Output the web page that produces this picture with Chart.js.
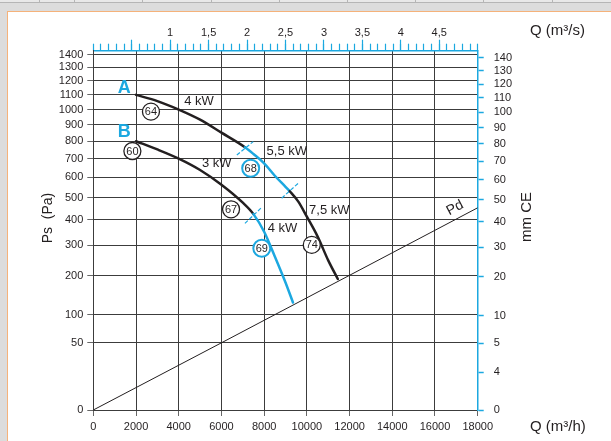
<!DOCTYPE html>
<html>
<head>
<meta charset="utf-8">
<title>Fan curves</title>
<script src="https://cdn.jsdelivr.net/npm/chart.js@4.4.0/dist/chart.umd.min.js"></script>
<style>
    body { margin: 0; width: 611px; height: 441px; overflow: hidden; position: relative; background: #dcdcdc; }
    #strip { position: absolute; left: 0; top: 0; height: 3px; display: flex; }
    #strip div { height: 2px; background: #e8e8e8; border-right: 1px solid #b5b5b5; border-bottom: 1px solid #b5b5b5; }
    #panel { position: absolute; left: 7px; top: 11px; width: 660px; height: 480px; background: #fff; border: 1px solid #f5b27a; }
    canvas { position: absolute; left: 0; top: 0; }
</style>
</head>
<body>
<div id="strip">
    <div style="width:39px"></div><div style="width:34px"></div><div style="width:67px"></div>
    <div style="width:68px"></div><div style="width:67px"></div><div style="width:67px"></div>
    <div style="width:67px"></div><div style="width:67px"></div><div style="width:68px"></div>
    <div style="width:60px"></div>
</div>
<div id="panel"></div>
<canvas id="fanChart" width="611" height="441"></canvas>
<script>
'use strict';

// curve A: Q (m3/h) / Ps (Pa), blue part between 7100 and 9200
const curveAQ = [2000, 3000, 4000, 5000, 6000, 7100, 7500, 8000, 8500, 9000, 9200, 9600, 10000, 10500, 11000, 11450];
const curveAPs = [1100, 1057, 1000, 934, 852, 765, 726, 674, 608, 552, 530, 481, 414, 334, 248, 190];
// curve B: blue part from 7500 on
const curveBQ = [2000, 3000, 4000, 5000, 6000, 7000, 7500, 8000, 8500, 9000, 9350];
const curveBPs = [800, 752, 700, 638, 562, 476, 425, 352, 261, 180, 128];
// dynamic pressure line
const pdQ = [0, 6000, 18000];
const pdPs = [0, 50, 453];
// dashed marks where the motor changes
const markA1Q = [6720, 7490], markA1Ps = [720, 798];
const markA2Q = [8820, 9600], markA2Ps = [497, 570];
const markB1Q = [7100, 7890], markB1Ps = [386, 455];

const qTicks = [0, 2000, 4000, 6000, 8000, 10000, 12000, 14000, 16000, 18000];
const psTicks = [0, 50, 100, 200, 300, 400, 500, 600, 700, 800, 900, 1000, 1100, 1200, 1300, 1400];
const mmLabels = ['0', '4', '5', '10', '20', '30', '40', '50', '60', '70', '80', '90', '100', '110', '120', '130', '140'];
// mm CE level each label is printed at (the "4" sits lower than its value on the original)
const mmTickAt = [0, 1.6, 5, 10, 20, 30, 40, 50, 60, 70, 80, 90, 100, 110, 120, 130, 140];
const qsLabels = [1, 1.5, 2, 2.5, 3, 3.5, 4, 4.5];

const qMax = 18000;
const psMax = 1430;
const paPerMm = 9.80665;

const blue = '#1ca8e0';
const ink = '#231f20';
const gridColor = '#3c3c3c';
const font = '"Liberation Sans", Arial, sans-serif';

// square root axis: Pd grows with Q squared and comes out straight
class SqrtScale extends Chart.LinearScale {
    getPixelForValue(value) {
        let lo = Math.sqrt(this.min);
        let hi = Math.sqrt(this.max);
        return this.getPixelForDecimal((Math.sqrt(Math.max(value, 0)) - lo) / (hi - lo));
    }
    getValueForPixel(pixel) {
        let lo = Math.sqrt(this.min);
        let hi = Math.sqrt(this.max);
        let v = lo + this.getDecimalForPixel(pixel) * (hi - lo);
        return v * v;
    }
}
SqrtScale.id = 'sqrt';
SqrtScale.defaults = {};
Chart.register(SqrtScale);

let toPoints = function (qs, ps) {
    return qs.map((q, i) => ({x: q, y: ps[i]}));
};

let segmentColour = function (from, to) {
    return ctx => (ctx.p0.parsed.x >= from && ctx.p1.parsed.x <= to) ? blue : ink;
};

let setTicks = function (list) {
    return scale => { scale.ticks = list.map(v => ({value: v})); };
};

let minorQs = [];
for (let i = 0; i <= 50; i++) {
    minorQs.push(i / 10);
}

// labels on the chart, placed in Q / Ps units
const notes = [
    {q: 1450, ps: 1147, text: 'A', color: blue, bold: true},
    {q: 1450, ps: 854, text: 'B', color: blue, bold: true},
    {q: 4950, ps: 1058, text: '4 kW'},
    {q: 5780, ps: 674, text: '3 kW'},
    {q: 9060, ps: 739, text: '5,5 kW'},
    {q: 11050, ps: 443, text: '7,5 kW'},
    {q: 8860, ps: 366, text: '4 kW'},
    {q: 2700, ps: 986, text: '64', ring: ink},
    {q: 1830, ps: 743, text: '60', ring: ink},
    {q: 7370, ps: 647, text: '68', ring: blue},
    {q: 6450, ps: 446, text: '67', ring: ink},
    {q: 7890, ps: 290, text: '69', ring: blue},
    {q: 10230, ps: 302, text: '74', ring: ink}
];

let notesPlugin = {
    id: 'notes',
    afterDatasetsDraw(chart) {
        let ctx = chart.ctx;
        let xs = chart.scales.x;
        let ys = chart.scales.y;
        ctx.save();
        ctx.textAlign = 'center';
        ctx.textBaseline = 'middle';
        notes.forEach(n => {
            let px = xs.getPixelForValue(n.q);
            let py = ys.getPixelForValue(n.ps);
            if (n.ring) {
                ctx.beginPath();
                ctx.arc(px, py, 8.5, 0, Math.PI * 2);
                ctx.fillStyle = '#fff';
                ctx.fill();
                ctx.lineWidth = n.ring === blue ? 2 : 1.3;
                ctx.strokeStyle = n.ring;
                ctx.stroke();
                ctx.fillStyle = ink;
                ctx.font = '11px ' + font;
                ctx.fillText(n.text, px, py + 0.5);
            } else if (n.bold) {
                ctx.fillStyle = n.color;
                ctx.font = 'bold 18px ' + font;
                ctx.fillText(n.text, px, py);
            } else {
                ctx.fillStyle = ink;
                ctx.font = '13px ' + font;
                ctx.fillText(n.text, px, py);
            }
        });

        // Pd label follows the slope of its line
        let x0 = xs.getPixelForValue(pdQ[0]), y0 = ys.getPixelForValue(pdPs[0]);
        let x1 = xs.getPixelForValue(pdQ[2]), y1 = ys.getPixelForValue(pdPs[2]);
        ctx.translate(xs.getPixelForValue(16940), ys.getPixelForValue(452));
        ctx.rotate(Math.atan2(y1 - y0, x1 - x0));
        ctx.fillStyle = ink;
        ctx.font = '14px ' + font;
        ctx.fillText('Pd', 0, 0);
        ctx.restore();

        // axis titles
        ctx.save();
        ctx.fillStyle = ink;
        ctx.font = '15px ' + font;
        ctx.textAlign = 'left';
        ctx.textBaseline = 'middle';
        ctx.fillText('Q (m³/s)', 530, 31);
        ctx.fillText('Q (m³/h)', 530, 427);
        ctx.textAlign = 'center';
        ctx.translate(48, 218);
        ctx.rotate(-Math.PI / 2);
        ctx.font = '14px ' + font;
        ctx.fillText('Ps  (Pa)', 0, 0);
        ctx.restore();
        ctx.save();
        ctx.fillStyle = ink;
        ctx.font = '15px ' + font;
        ctx.textAlign = 'center';
        ctx.textBaseline = 'middle';
        ctx.translate(527, 217);
        ctx.rotate(-Math.PI / 2);
        ctx.fillText('mm CE', 0, 0);
        ctx.restore();
    }
};

let lineStyle = {pointRadius: 0, fill: false, cubicInterpolationMode: 'monotone', borderCapStyle: 'round', borderJoinStyle: 'round'};

let markStyle = {pointRadius: 0, fill: false, borderColor: blue, borderWidth: 1.2, borderDash: [4, 2]};

new Chart(document.getElementById('fanChart').getContext('2d'), {
    type: 'line',
    data: {
        datasets: [
            Object.assign({label: 'A', data: toPoints(curveAQ, curveAPs), borderColor: ink, borderWidth: 2.5,
                segment: {borderColor: segmentColour(7100, 9200)}}, lineStyle),
            Object.assign({label: 'B', data: toPoints(curveBQ, curveBPs), borderColor: ink, borderWidth: 2.5,
                segment: {borderColor: segmentColour(7500, 99999)}}, lineStyle),
            {label: 'Pd', data: toPoints(pdQ, pdPs), borderColor: ink, borderWidth: 1, pointRadius: 0, fill: false},
            Object.assign({label: 'm1', data: toPoints(markA1Q, markA1Ps)}, markStyle),
            Object.assign({label: 'm2', data: toPoints(markA2Q, markA2Ps)}, markStyle),
            Object.assign({label: 'm3', data: toPoints(markB1Q, markB1Ps)}, markStyle)
        ]
    },
    options: {
        responsive: false,
        animation: false,
        devicePixelRatio: 1,
        layout: {padding: 0},
        plugins: {legend: {display: false}, tooltip: {enabled: false}},
        scales: {
            x: {
                type: 'linear', position: 'bottom', min: 0, max: qMax,
                afterBuildTicks: setTicks(qTicks),
                afterFit: s => { s.height = 31; },
                ticks: {callback: v => String(v), color: ink, font: {family: font, size: 11}, padding: 4, maxRotation: 0, autoSkip: false},
                grid: {color: gridColor, lineWidth: 1, tickLength: 6, tickColor: '#666'},
                border: {color: gridColor, width: 1}
            },
            qsMinor: {
                type: 'linear', position: 'top', weight: 0, min: 0, max: qMax / 3600,
                afterBuildTicks: setTicks(minorQs),
                afterFit: s => { s.height = 0; },
                ticks: {display: false},
                grid: {drawOnChartArea: false, tickLength: 7, tickColor: blue, tickWidth: 1.2},
                border: {display: false}
            },
            qsMajor: {
                type: 'linear', position: 'top', weight: 1, min: 0, max: qMax / 3600,
                afterBuildTicks: setTicks([0.5].concat(qsLabels)),
                afterFit: s => { s.height = 50.7; },
                ticks: {callback: v => qsLabels.includes(v) ? String(v).replace('.', ',') : '', color: ink,
                    font: {family: font, size: 11}, padding: 0, maxRotation: 0, autoSkip: false},
                grid: {drawOnChartArea: false, tickLength: 11, tickColor: blue, tickWidth: 1.2},
                border: {color: blue, width: 1.5}
            },
            y: {
                type: 'sqrt', position: 'left', min: 0, max: psMax,
                afterBuildTicks: setTicks(psTicks),
                afterFit: s => { s.width = 93.3; },
                ticks: {callback: v => String(v), color: ink, font: {family: font, size: 11}, padding: 4, autoSkip: false},
                grid: {color: gridColor, lineWidth: 1, tickLength: 6, tickColor: '#666'},
                border: {color: gridColor, width: 1}
            },
            y2: {
                type: 'sqrt', position: 'right', min: 0, max: psMax / paPerMm,
                afterBuildTicks: setTicks(mmTickAt),
                afterFit: s => { s.width = 611 - 477.7; },
                ticks: {callback: (v, i) => mmLabels[i], color: ink, font: {family: font, size: 11}, padding: 10, autoSkip: false},
                grid: {drawOnChartArea: false, tickLength: 6, tickColor: blue, tickWidth: 1.5},
                border: {color: blue, width: 1.5}
            }
        }
    },
    plugins: [notesPlugin]
});
</script>
</body>
</html>
